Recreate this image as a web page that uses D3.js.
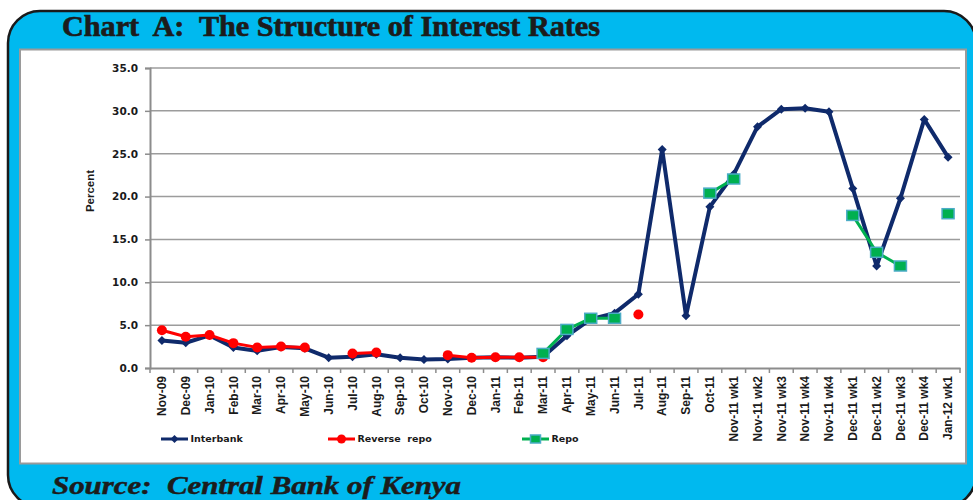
<!DOCTYPE html>
<html><head><meta charset="utf-8">
<script src="https://cdn.jsdelivr.net/npm/d3@7"></script>
<style>html,body{margin:0;padding:0;background:#fff;overflow:hidden}</style>
</head><body>
<svg id="c" width="973" height="500"></svg>
<script>
const categories = ["Nov-09","Dec-09","Jan-10","Feb-10","Mar-10","Apr-10","May-10","Jun-10","Jul-10","Aug-10","Sep-10","Oct-10","Nov-10","Dec-10","Jan-11","Feb-11","Mar-11","Apr-11","May-11","Jun-11","Jul-11","Aug-11","Sep-11","Oct-11","Nov-11 wk1","Nov-11 wk2","Nov-11 wk3","Nov-11 wk4","Nov-11 wk4","Dec-11 wk1","Dec-11 wk2","Dec-11 wk3","Dec-11 wk4","Jan-12 wk1"];
const interbank = [3.2,2.95,3.8,2.4,2.0,2.45,2.3,1.2,1.3,1.6,1.2,1.0,1.05,1.2,1.25,1.2,1.3,3.75,5.7,6.4,8.6,25.5,6.1,18.8,22.6,28.15,30.2,30.3,29.9,20.95,11.9,19.8,29.0,24.6];
const reverseRepo = [4.4,3.65,3.85,2.9,2.4,2.5,2.4,null,1.7,1.8,null,null,1.5,1.2,1.25,1.25,1.25,null,null,null,6.25,null,null,null,null,null,null,null,null,null,null,null,null,null];
const repo = [null,null,null,null,null,null,null,null,null,null,null,null,null,null,null,null,1.7,4.5,5.8,5.8,null,null,null,20.4,22.05,null,null,null,null,17.8,13.5,11.9,null,18.0];
const yTicks = [0,5,10,15,20,25,30,35];
const seriesNames = ["Interbank","Reverse  repo","Repo"];
const titleText = "Chart  A:  The Structure of Interest Rates";
const sourceText = "Source:  Central Bank of Kenya";
const yLabel = "Percent";

const svg = d3.select("#c");
const cyan = "#00B9EF";
// outer frame
svg.append("rect").attr("x",8).attr("y",11).attr("width",968).attr("height",496).attr("rx",32).attr("ry",32)
  .attr("fill",cyan).attr("stroke","#1a1a1a").attr("stroke-width",2.5);
// white panel
svg.append("rect").attr("x",20).attr("y",49.5).attr("width",946).attr("height",414).attr("fill","#fff")
  .attr("stroke","#9a9a9a").attr("stroke-width",2);
// title
svg.append("text").attr("x",62).attr("y",36).attr("font-family","Liberation Serif, serif").attr("font-weight","bold")
  .attr("font-size",30).attr("fill","#1c1c1c").attr("stroke","#1c1c1c").attr("stroke-width",0.7)
  .attr("textLength",538).attr("lengthAdjust","spacingAndGlyphs")
  .attr("xml:space","preserve").text(titleText);
// source
svg.append("text").attr("x",52).attr("y",494).attr("font-family","Liberation Serif, serif").attr("font-weight","bold")
  .attr("font-style","italic").attr("font-size",25).attr("fill","#1c1c1c").attr("stroke","#1c1c1c").attr("stroke-width",0.5)
  .attr("textLength",409).attr("lengthAdjust","spacingAndGlyphs")
  .attr("xml:space","preserve").text(sourceText);

const L = 150, R = 960, T = 68, B = 368;
const x = d3.scaleBand().domain(d3.range(categories.length)).range([L,R]);
const y = d3.scaleLinear().domain([0,35]).range([B,T]);
const cx = i => x(i) + x.bandwidth()/2;

// gridlines
svg.append("g").selectAll("line").data(yTicks.filter(t=>t>0)).join("line")
  .attr("x1",L).attr("x2",R).attr("y1",d=>y(d)).attr("y2",d=>y(d)).attr("stroke","#9c9c9c").attr("stroke-width",1.5);

// y axis
const ya = svg.append("g").attr("transform",`translate(${L},0)`).call(d3.axisLeft(y).tickValues(yTicks).tickFormat(d3.format(".1f")).tickSize(5).tickPadding(7));
ya.select(".domain").attr("stroke","#8c8c8c").attr("stroke-width",2);
ya.selectAll(".tick line").attr("stroke","#8c8c8c").attr("stroke-width",1.5);
ya.selectAll("text").attr("font-family","DejaVu Sans, sans-serif").attr("font-weight","bold").attr("font-size",10.5).attr("fill","#1a1a1a");

// x axis
const xa = svg.append("g").attr("transform",`translate(0,${B})`).call(d3.axisBottom(x).tickFormat(i=>categories[i]).tickSize(0).tickPadding(0));
xa.select(".domain").attr("stroke","#8c8c8c").attr("stroke-width",2);
xa.selectAll("text").attr("transform","rotate(-90)").attr("text-anchor","end").attr("x",-8).attr("y",0).attr("dy","0.35em")
  .attr("font-family","Liberation Sans, Arial, sans-serif").attr("font-weight","bold").attr("font-size",12).attr("fill","#1a1a1a");
// boundary ticks
svg.append("g").selectAll("line").data(d3.range(categories.length+1)).join("line")
  .attr("x1",i=>L+i*x.step()).attr("x2",i=>L+i*x.step()).attr("y1",B).attr("y2",B+5).attr("stroke","#8c8c8c").attr("stroke-width",1.5);

// y label
svg.append("text").attr("transform","translate(94,191) rotate(-90)").attr("text-anchor","middle")
  .attr("font-family","Liberation Sans, Arial, sans-serif").attr("font-weight","bold").attr("font-size",11.5).attr("fill","#1a1a1a").text(yLabel);

const navy = "#0F2A6B", red = "#FF0000", green = "#00B050", sqStroke = "#4BACC6";
const line = d3.line().defined(d=>d.v!=null).x(d=>cx(d.i)).y(d=>y(d.v));
const toPts = arr => arr.map((v,i)=>({i,v}));

function diamond(g, px, py, s){ g.append("path").attr("d",`M${px},${py-s}L${px+s},${py}L${px},${py+s}L${px-s},${py}Z`).attr("fill",navy); }

// interbank
svg.append("path").datum(toPts(interbank)).attr("d",line).attr("fill","none").attr("stroke",navy).attr("stroke-width",4).attr("stroke-linejoin","round");
const gi = svg.append("g");
toPts(interbank).forEach(d=>diamond(gi,cx(d.i),y(d.v),4.5));

// reverse repo
svg.append("path").datum(toPts(reverseRepo)).attr("d",line).attr("fill","none").attr("stroke",red).attr("stroke-width",3);
svg.append("g").selectAll("circle").data(toPts(reverseRepo).filter(d=>d.v!=null)).join("circle")
  .attr("cx",d=>cx(d.i)).attr("cy",d=>y(d.v)).attr("r",5).attr("fill",red);

// repo
svg.append("path").datum(toPts(repo)).attr("d",line).attr("fill","none").attr("stroke",green).attr("stroke-width",3);
svg.append("g").selectAll("rect").data(toPts(repo).filter(d=>d.v!=null)).join("rect")
  .attr("x",d=>cx(d.i)-6).attr("y",d=>y(d.v)-5).attr("width",12).attr("height",10)
  .attr("fill",green).attr("stroke",sqStroke).attr("stroke-width",1.5);

// legend
const ly = 439;
const leg = svg.append("g");
const legX = [161,328,522];
seriesNames.forEach((n,k)=>{
  const x0 = legX[k];
  const col = [navy,red,green][k];
  leg.append("line").attr("x1",x0).attr("x2",x0+27).attr("y1",ly).attr("y2",ly).attr("stroke",col).attr("stroke-width",3);
  const mx = x0+13.5;
  if(k==0) diamond(leg,mx,ly,4);
  if(k==1) leg.append("circle").attr("cx",mx).attr("cy",ly).attr("r",4.5).attr("fill",red);
  if(k==2) leg.append("rect").attr("x",mx-5).attr("y",ly-4).attr("width",10).attr("height",8).attr("fill",green).attr("stroke",sqStroke).attr("stroke-width",1.5);
  leg.append("text").attr("x",x0+29.5).attr("y",ly).attr("dy","0.35em").attr("xml:space","preserve")
    .attr("font-family","DejaVu Sans, sans-serif").attr("font-weight","bold").attr("font-size",9.5).attr("fill","#1a1a1a").text(n);
});
</script>
</body></html>
